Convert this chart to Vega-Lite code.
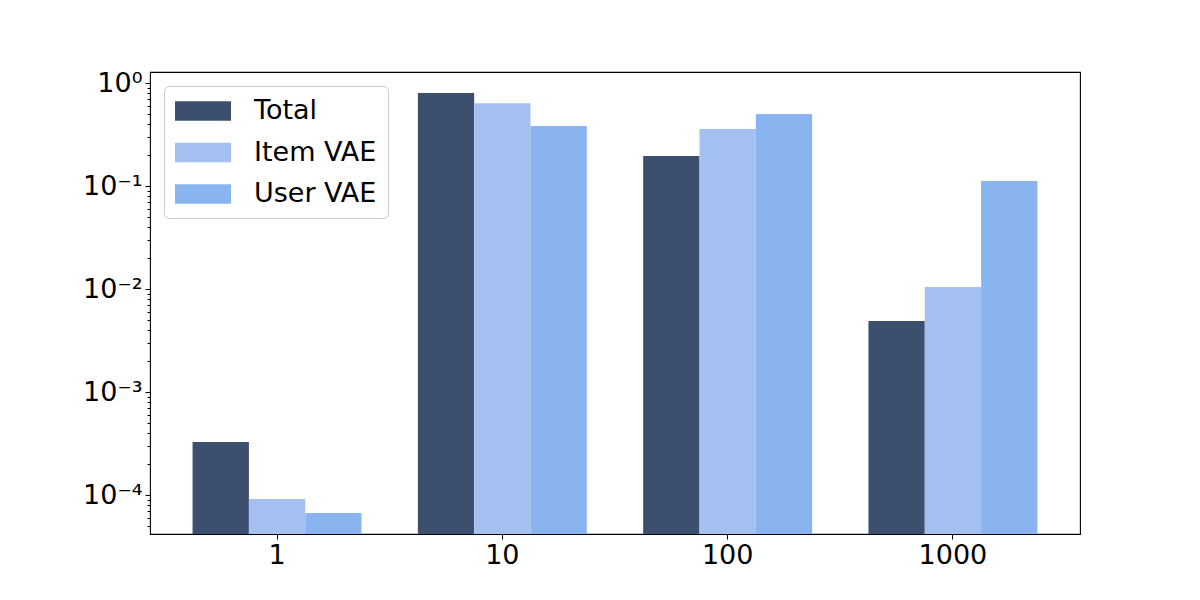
{
  "$schema": "https://vega.github.io/schema/vega-lite/v6.json",
  "width": 930,
  "height": 462,
  "autosize": {"type": "none"},
  "padding": {"left": 150, "top": 72, "right": 120, "bottom": 66},
  "background": "white",
  "config": {
    "font": "DejaVu Sans",
    "view": {"stroke": "black", "strokeWidth": 1.1},
    "axis": {
      "labelFont": "DejaVu Sans",
      "labelFontSize": 27,
      "labelColor": "black",
      "tickColor": "black",
      "domain": false,
      "grid": false,
      "title": null
    },
    "legend": {
      "labelFont": "DejaVu Sans",
      "labelFontSize": 27,
      "labelColor": "black"
    }
  },
  "data": {
    "values": [
      {"k": "1", "series": "Total", "value": 0.000329},
      {"k": "1", "series": "Item VAE", "value": 0.000092},
      {"k": "1", "series": "User VAE", "value": 0.000067},
      {"k": "10", "series": "Total", "value": 0.805},
      {"k": "10", "series": "Item VAE", "value": 0.64},
      {"k": "10", "series": "User VAE", "value": 0.385},
      {"k": "100", "series": "Total", "value": 0.197},
      {"k": "100", "series": "Item VAE", "value": 0.36},
      {"k": "100", "series": "User VAE", "value": 0.503},
      {"k": "1000", "series": "Total", "value": 0.00492},
      {"k": "1000", "series": "Item VAE", "value": 0.0105},
      {"k": "1000", "series": "User VAE", "value": 0.1125}
    ]
  },
  "mark": {"type": "bar", "clip": true},
  "encoding": {
    "x": {
      "field": "k",
      "type": "ordinal",
      "sort": ["1", "10", "100", "1000"],
      "scale": {"paddingInner": 0.25, "paddingOuter": 0.189},
      "axis": {"labelAngle": 0, "tickSize": 5, "labelPadding": 3}
    },
    "xOffset": {
      "field": "series",
      "type": "nominal",
      "sort": ["Total", "Item VAE", "User VAE"],
      "scale": {"paddingInner": 0, "paddingOuter": 0}
    },
    "y": {
      "field": "value",
      "type": "quantitative",
      "scale": {"type": "log", "domain": [0.000042, 1.29], "nice": false},
      "axis": {
        "values": [1, 0.1, 0.01, 0.001, 0.0001,
          0.9, 0.8, 0.7, 0.6, 0.5, 0.4, 0.3, 0.2,
          0.09, 0.08, 0.07, 0.06, 0.05, 0.04, 0.03, 0.02,
          0.009, 0.008, 0.007, 0.006, 0.005, 0.004, 0.003, 0.002,
          0.0009, 0.0008, 0.0007, 0.0006, 0.0005, 0.0004, 0.0003, 0.0002,
          0.00009, 0.00008, 0.00007, 0.00006, 0.00005],
        "labelExpr": "abs(log(datum.value)/LN10 - round(log(datum.value)/LN10)) < 0.000001 ? '10' + ['⁰','⁻¹','⁻²','⁻³','⁻⁴','⁻⁵'][-round(log(datum.value)/LN10)] : ''",
        "tickSize": {"condition": {"test": "abs(log(datum.value)/LN10 - round(log(datum.value)/LN10)) < 0.000001", "value": 5}, "value": 3},
        "labelOverlap": false,
        "labelFlush": false,
        "labelPadding": 3
      }
    },
    "y2": {"datum": 0.000042},
    "color": {
      "field": "series",
      "type": "nominal",
      "sort": ["Total", "Item VAE", "User VAE"],
      "scale": {
        "domain": ["Total", "Item VAE", "User VAE"],
        "range": ["#3d4f6f", "#a4c0f0", "#8ab4f0"]
      },
      "legend": {
        "title": null,
        "orient": "none",
        "legendX": 14,
        "legendY": 14,
        "symbolType": "M-2,-0.7L2,-0.7L2,0.7L-2,0.7Z",
        "symbolSize": 784,
        "symbolOffset": 14,
        "symbolStrokeWidth": 0,
        "symbolOpacity": 1,
        "labelOffset": 37,
        "rowPadding": 14.5,
        "padding": 11,
        "strokeColor": "#cccccc",
        "fillColor": "white",
        "cornerRadius": 5
      }
    }
  }
}
